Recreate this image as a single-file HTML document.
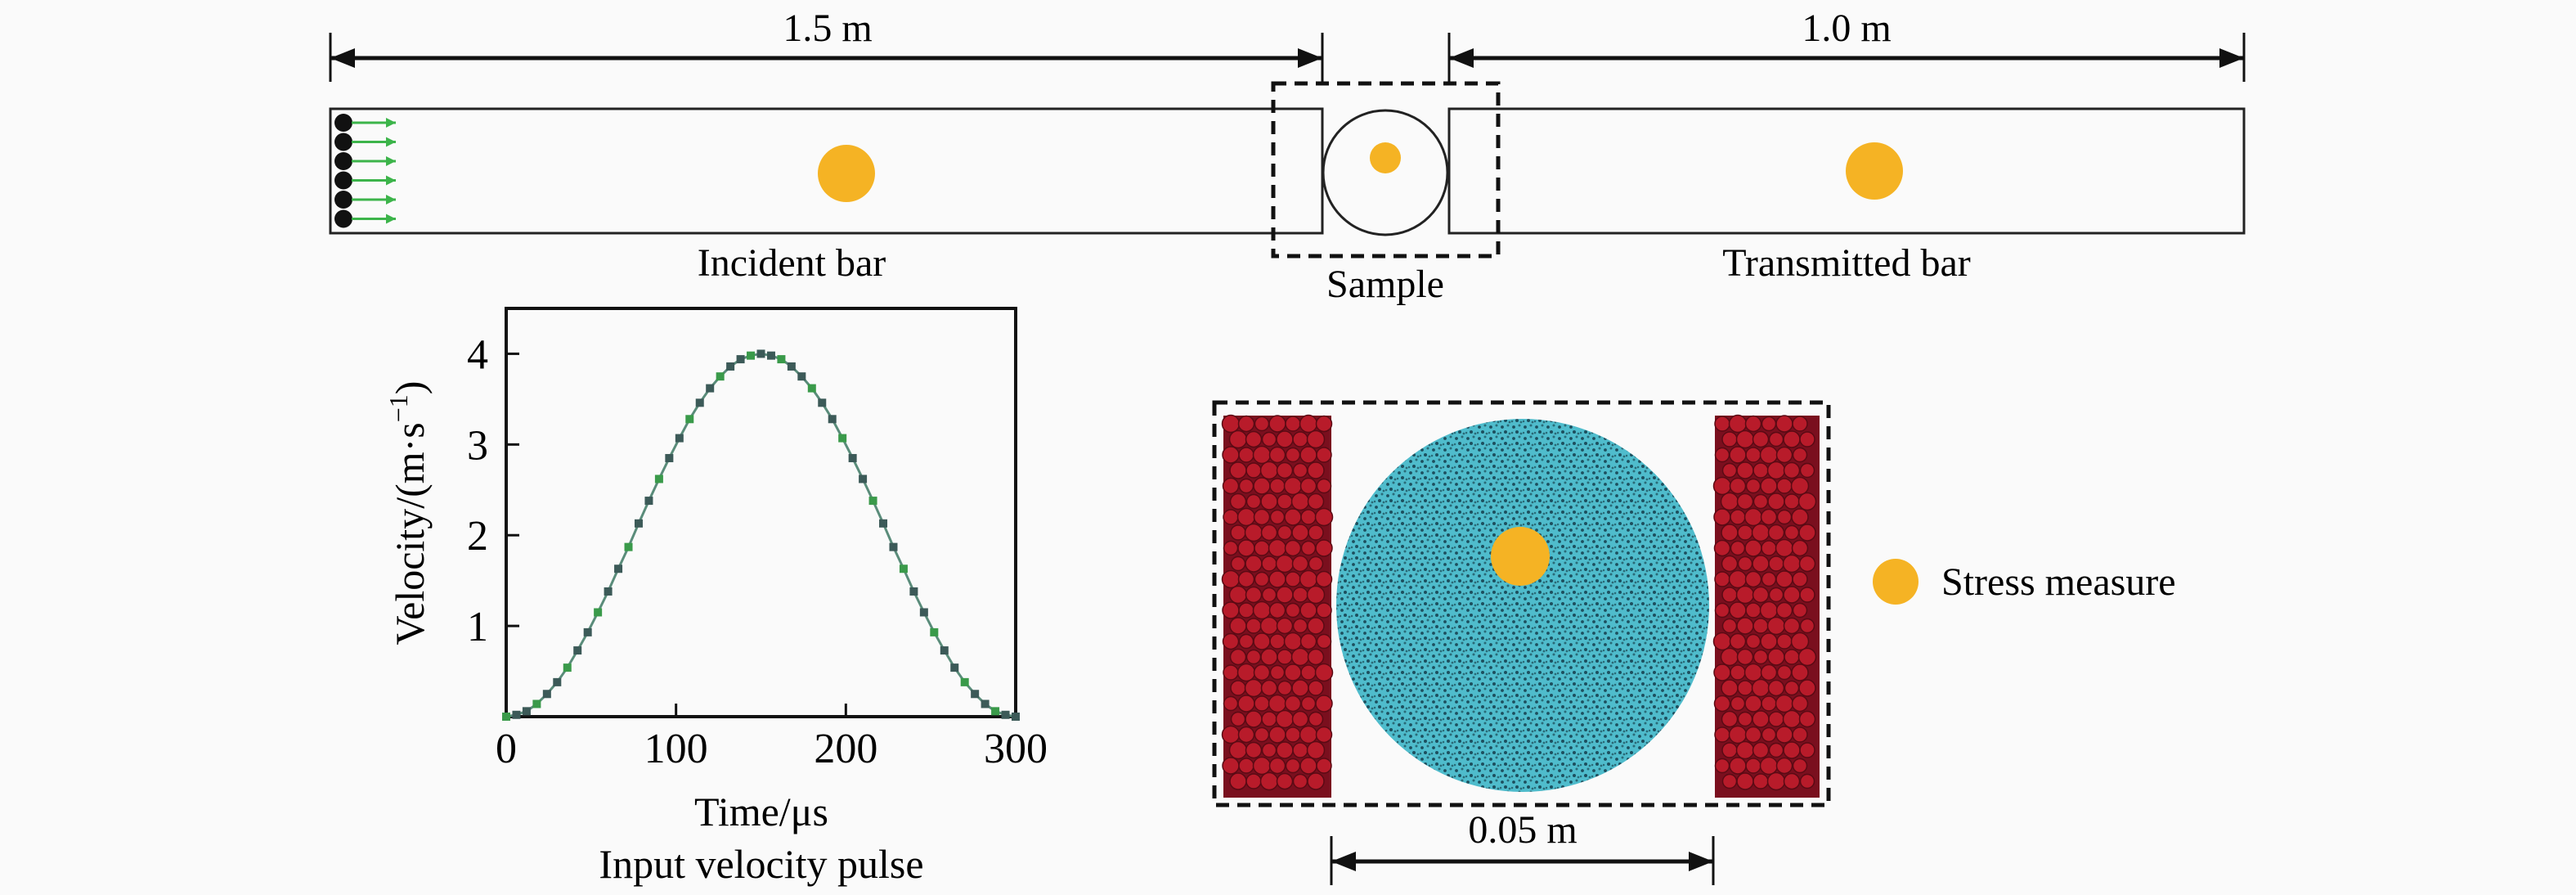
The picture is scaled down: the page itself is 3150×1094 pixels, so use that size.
<!DOCTYPE html>
<html><head><meta charset="utf-8"><style>
html,body{margin:0;padding:0;background:#fafafa;}
svg{display:block;}
svg text{font-family:"Liberation Serif","Times New Roman",serif;}
</style></head><body>
<svg id="fig" width="3150" height="1094" viewBox="0 0 3150 1094" xmlns="http://www.w3.org/2000/svg" font-family="Liberation Serif, serif">
<defs>
<marker id="ah" viewBox="0 0 30 24" refX="30" refY="12" markerWidth="30" markerHeight="24" markerUnits="userSpaceOnUse" orient="auto-start-reverse"><path d="M0,0 L30,12 L0,24 z" fill="#111"/></marker>
<pattern id="speck" width="14" height="14" patternUnits="userSpaceOnUse">
<rect width="14" height="14" fill="#4fbccc"/>
<circle cx="3" cy="4" r="1.9" fill="#1d4f5e"/><circle cx="10" cy="2" r="1.5" fill="#2a6b78"/>
<circle cx="7" cy="10" r="2" fill="#1d4f5e"/><circle cx="12" cy="12" r="1.4" fill="#2a6b78"/>
<circle cx="1" cy="11" r="1.3" fill="#2a6b78"/>
</pattern>
<marker id="ga" viewBox="0 0 10 10" refX="10" refY="5" markerWidth="12" markerHeight="12" markerUnits="userSpaceOnUse" orient="auto"><path d="M0,0 L10,5 L0,10 z" fill="#3cb44a"/></marker>
</defs>
<rect width="3150" height="1094" fill="#fafafa"/>

<g stroke="#111" stroke-width="3">
<line x1="404" y1="40" x2="404" y2="100"/><line x1="1617" y1="40" x2="1617" y2="100"/>
<line x1="404" y1="71" x2="1617" y2="71" stroke-width="5" marker-start="url(#ah)" marker-end="url(#ah)"/>
</g>
<text x="1012" y="50" font-size="48" text-anchor="middle">1.5 m</text>
<g stroke="#111" stroke-width="3">
<line x1="1772" y1="40" x2="1772" y2="100"/><line x1="2744" y1="40" x2="2744" y2="100"/>
<line x1="1772" y1="71" x2="2744" y2="71" stroke-width="5" marker-start="url(#ah)" marker-end="url(#ah)"/>
</g>
<text x="2258" y="50" font-size="48" text-anchor="middle">1.0 m</text>

<rect x="404" y="133" width="1213" height="152" fill="none" stroke="#222" stroke-width="3"/>
<rect x="1772" y="133" width="972" height="152" fill="none" stroke="#222" stroke-width="3"/>
<circle cx="1035" cy="212" r="35" fill="#f5b324"/>
<circle cx="2292" cy="209" r="35" fill="#f5b324"/>
<circle cx="1694" cy="211" r="76" fill="none" stroke="#222" stroke-width="3"/>
<circle cx="1694" cy="193" r="19" fill="#f5b324"/>
<rect x="1557" y="102" width="275" height="211" fill="none" stroke="#111" stroke-width="5" stroke-dasharray="16 10"/>
<g id="pushers"></g>
<text x="968" y="337" font-size="48" text-anchor="middle">Incident bar</text>
<text x="1694" y="363" font-size="48" text-anchor="middle">Sample</text>
<text x="2258" y="337" font-size="48" text-anchor="middle">Transmitted bar</text>

<g id="chart"></g>

<g id="detail">
<rect x="1496" y="508" width="132" height="467" fill="#7a0f1e"/>
<rect x="2097" y="508" width="128" height="467" fill="#7a0f1e"/>
<circle cx="1862" cy="740" r="228" fill="url(#speck)"/>
<circle cx="1859" cy="680" r="36" fill="#f5b324"/>
<rect x="1485" y="492" width="751" height="492" fill="none" stroke="#111" stroke-width="5" stroke-dasharray="16 10"/>
</g>
<g stroke="#111" stroke-width="3">
<line x1="1628" y1="1022" x2="1628" y2="1082"/><line x1="2095" y1="1022" x2="2095" y2="1082"/>
<line x1="1628" y1="1053" x2="2095" y2="1053" stroke-width="5" marker-start="url(#ah)" marker-end="url(#ah)"/>
</g>
<text x="1862" y="1030" font-size="48" text-anchor="middle">0.05 m</text>
<circle cx="2318" cy="711" r="28" fill="#f5b324"/>
<text x="2374" y="727" font-size="48">Stress measure</text>
</svg>
<script>
const times=[0,6,12,18,24,30,36,42,48,54,60,66,72,78,84,90,96,102,108,114,120,126,132,138,144,150,156,162,168,174,180,186,192,198,204,210,216,222,228,234,240,246,252,258,264,270,276,282,288,294,300];
const velocity=[0,0.02,0.06,0.14,0.25,0.38,0.54,0.73,0.93,1.15,1.38,1.63,1.87,2.13,2.38,2.62,2.85,3.07,3.28,3.46,3.62,3.75,3.86,3.94,3.98,4.0,3.98,3.94,3.86,3.75,3.62,3.46,3.28,3.07,2.85,2.62,2.38,2.13,1.87,1.63,1.38,1.15,0.93,0.73,0.54,0.38,0.25,0.14,0.06,0.02,0];
const xTicks=[0,100,200,300];
const yTicks=[1,2,3,4];
const NS='http://www.w3.org/2000/svg';
function mk(tag,attrs,parent){const e=document.createElementNS(NS,tag);for(const k in attrs)e.setAttribute(k,attrs[k]);parent.appendChild(e);return e;}
const L=619,R=1242,T=377,B=876;
const xs=v=>L+(v-0)/(300-0)*(R-L);
const ys=v=>B-(v-0)/(4.5-0)*(B-T);
const ch=document.getElementById('chart');
let box=mk('rect',{x:L,y:T,width:R-L,height:B-T,fill:'none',stroke:'#111','stroke-width':4},ch);


xTicks.forEach(t=>{
  if(t>0&&t<300){const tk=mk('line',{x1:xs(t),y1:B,x2:xs(t),y2:B-16,stroke:'#111','stroke-width':3},ch);
  
  }
  const lb=mk('text',{x:xs(t),y:932,'font-size':52,'text-anchor':'middle'},ch);lb.textContent=t;
  
  
});
yTicks.forEach(t=>{
  const tk=mk('line',{x1:L,y1:ys(t),x2:L+16,y2:ys(t),stroke:'#111','stroke-width':3},ch);
  
  
  const lb=mk('text',{x:597,y:ys(t)+18,'font-size':52,'text-anchor':'end'},ch);lb.textContent=t;
  
  
});
let pts=times.map((t,i)=>xs(t)+','+ys(velocity[i])).join(' ');
const ln=mk('polyline',{points:pts,fill:'none',stroke:'#5a8c7a','stroke-width':3},ch);


times.forEach((t,i)=>{
  const m=mk('rect',{x:xs(t)-5,y:ys(velocity[i])-5,width:10,height:10,fill:i%3==0?'#3a9a4a':'#3c5a58'},ch);
  
  
});
const xt=mk('text',{x:931,y:1009,'font-size':50,'text-anchor':'middle'},ch);xt.textContent='Time/μs';


const ct=mk('text',{x:931,y:1073,'font-size':50,'text-anchor':'middle'},ch);ct.textContent='Input velocity pulse';


const yt=mk('text',{x:0,y:0,'font-size':50,'text-anchor':'middle',transform:'translate(518,627) rotate(-90)'},ch);
yt.innerHTML='Velocity/(m·s<tspan font-size="32" dy="-20">−1</tspan><tspan dy="20">)</tspan>';


const pg=document.getElementById('pushers');
for(let i=0;i<6;i++){const y=150+i*23.5;
  const c=mk('circle',{cx:420,cy:y,r:11,fill:'#111'},pg);
  
  
  const a=mk('line',{x1:430,y1:y,x2:484,y2:y,stroke:'#3cb44a','stroke-width':3,'marker-end':'url(#ga)'},pg);
  
  
}
const dt=document.getElementById('detail');
const pgrp=mk('g',{},dt);


dt.insertBefore(pgrp,dt.children[2]);
[[1496,132],[2097,128]].forEach(([x0,w])=>{
  let row=0;
  for(let y=518;y<972;y+=19,row++){
    for(let x=x0+9+(row%2)*9;x<x0+w-6;x+=19){
      const r=8.5+((x*7+y*13)%5)*0.5;
      mk('circle',{cx:x,cy:y,r:r,fill:'#b81b2a',stroke:'#5a0a14','stroke-width':1.5},pgrp);
    }
  }
});
</script>
</body></html>
